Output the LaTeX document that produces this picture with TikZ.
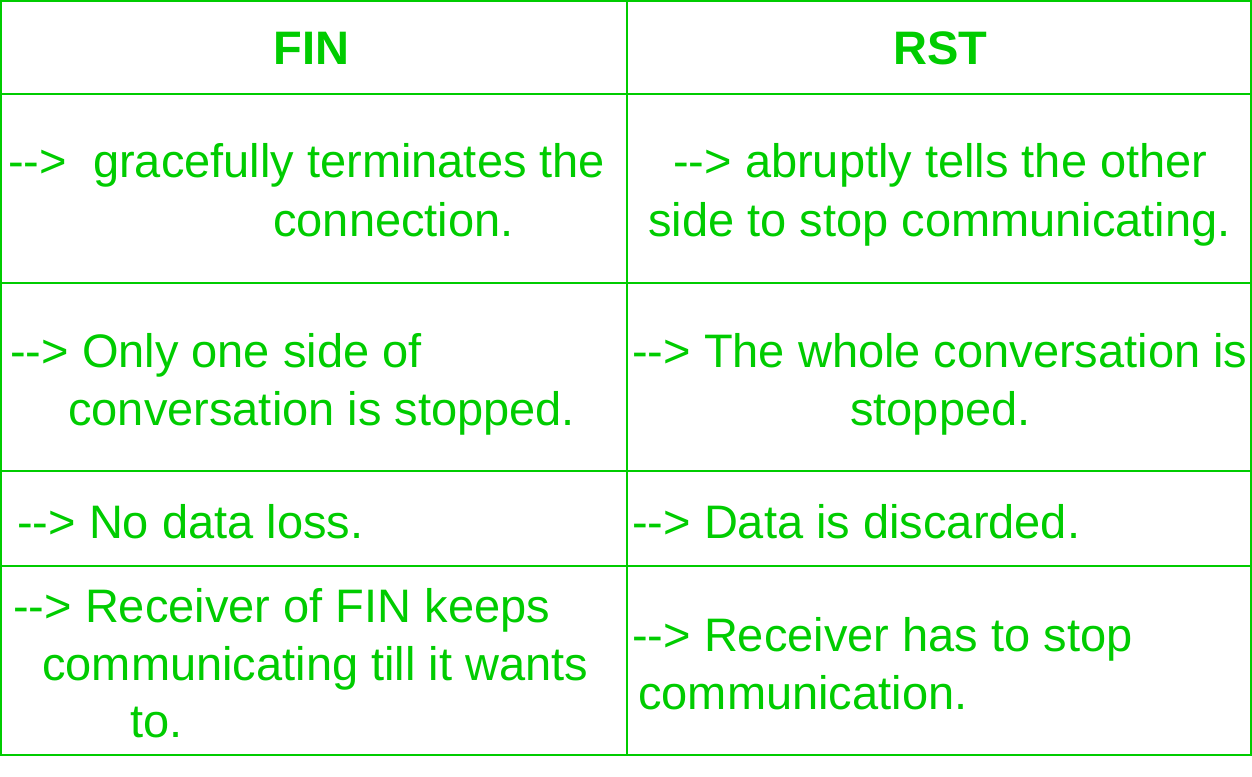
\documentclass[tikz,border=0pt]{standalone}
\usepackage{fontspec}
\newfontfamily\tblfont{Liberation Sans}
\definecolor{grn}{RGB}{0,204,0}
\newcommand\arrw{-\kern0pt-\kern0pt>}
\begin{document}
\begin{tikzpicture}[x=0.75pt,y=-0.75pt,
  txt/.style={anchor=base west,inner sep=0pt,text=grn,font=\tblfont\fontsize{35.25pt}{42pt}\selectfont},
  head/.style={anchor=base,inner sep=0pt,text=grn,font=\tblfont\bfseries\fontsize{35.25pt}{42pt}\selectfont},
  grid/.style={draw=grn,line width=1.3pt}]
\useasboundingbox (0,0) rectangle (1252,776);
\fill[white] (0,0) rectangle (1252,776);
% table lines
\draw[grid] (1,1) rectangle (1251,755);
\draw[grid] (627,1) -- (627,755);
\draw[grid] (1,94) -- (1251,94);
\draw[grid] (1,283) -- (1251,283);
\draw[grid] (1,471) -- (1251,471);
\draw[grid] (1,566) -- (1251,566);
% headers
\node[head] (hfin) at (311.5,64) {FIN};
\node[head] (hrst) at (940.5,64) {RST};
% row 1
\node[txt] (a1) at (8,177) {\arrw\ \ gracefully terminates the};
\node[txt] (a2) at (273,236) {connection.};
\node[txt] (b1) at (673,177) {\arrw\ abruptly tells the other};
\node[txt] (b2) at (648,236) {side to stop communicating.};
% row 2
\node[txt] (c1) at (10,367) {\arrw\ Only one side of};
\node[txt] (c2) at (68,425) {conversation is stopped.};
\node[txt] (d1) at (632,367) {\arrw\ The whole conversation is};
\node[txt] (d2) at (850,425) {stopped.};
% row 3
\node[txt] (e1) at (17,538) {\arrw\ No data loss.};
\node[txt] (f1) at (632,538) {\arrw\ Data is discarded.};
% row 4
\node[txt] (g1) at (13,622) {\arrw\ Receiver of FIN keeps};
\node[txt] (g2) at (42,680) {communicating till it wants};
\node[txt] (g3) at (130,737) {to.};
\node[txt] (h1) at (632,651) {\arrw\ Receiver has to stop};
\node[txt] (h2) at (638,709) {communication.};
\end{tikzpicture}
\end{document}
